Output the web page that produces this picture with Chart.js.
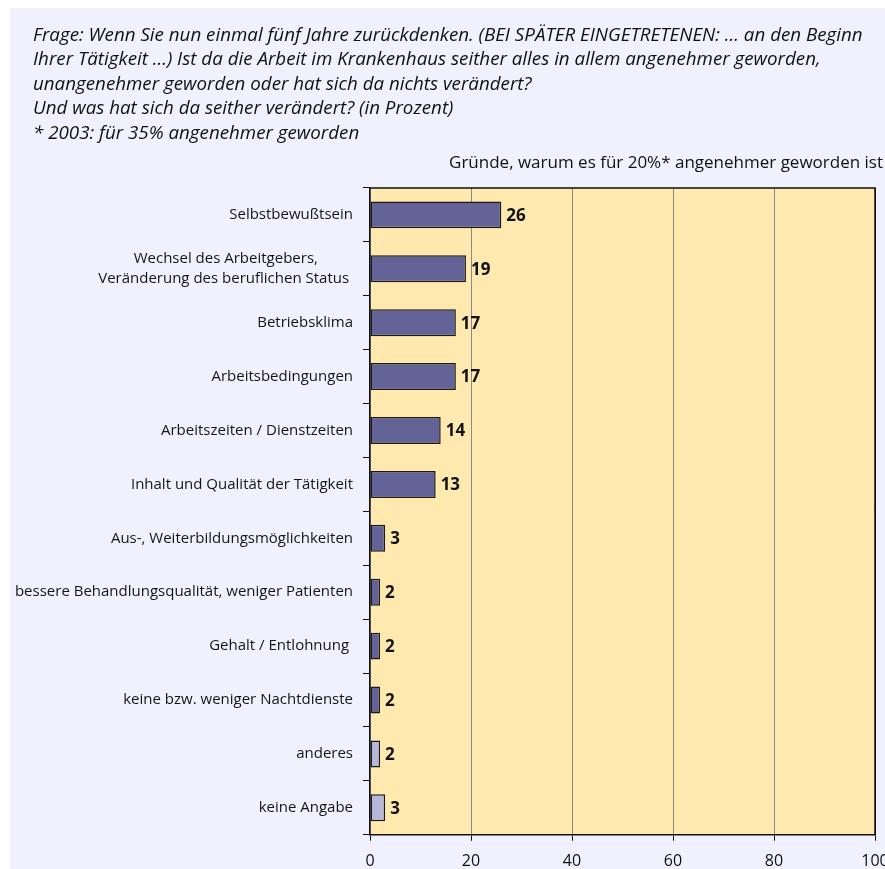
<!DOCTYPE html>
<html>
<head>
<meta charset="utf-8">
<script src="https://cdn.jsdelivr.net/npm/chart.js@4.4.0/dist/chart.umd.min.js"></script>
<style>
  html, body { margin: 0; padding: 0; background: #ffffff; overflow: hidden; width: 885px; height: 869px; }
  #wrap { position: absolute; left: 10px; top: 8px; width: 875px; height: 876px; background: #F0F0FE; }
  canvas { display: block; }
</style>
</head>
<body>
<div id="wrap"><canvas id="c" width="875" height="876"></canvas></div>
<script>
const categories = [
  "Selbstbewußtsein",
  ["Wechsel des Arbeitgebers,         ", "Veränderung des beruflichen Status "],
  "Betriebsklima",
  "Arbeitsbedingungen",
  "Arbeitszeiten / Dienstzeiten",
  "Inhalt und Qualität der Tätigkeit",
  "Aus-, Weiterbildungsmöglichkeiten",
  "bessere Behandlungsqualität, weniger Patienten",
  "Gehalt / Entlohnung ",
  "keine bzw. weniger Nachtdienste",
  "anderes",
  "keine Angabe"
];
const values = [26, 19, 17, 17, 14, 13, 3, 2, 2, 2, 2, 3];
const xTicks = [0, 20, 40, 60, 80, 100];
const titleLines = [
  "Frage: Wenn Sie nun einmal fünf Jahre zurückdenken. (BEI SPÄTER EINGETRETENEN: ... an den Beginn",
  "Ihrer Tätigkeit ...) Ist da die Arbeit im Krankenhaus seither alles in allem angenehmer geworden,",
  "unangenehmer geworden oder hat sich da nichts verändert?",
  "Und was hat sich da seither verändert? (in Prozent)",
  "* 2003: für 35% angenehmer geworden"
];
const subtitleText = "Gründe, warum es für 20%* angenehmer geworden ist";

const FONT = "'Open Sans', 'DejaVu Sans', sans-serif";
const DARK = "#636398";
const LIGHT = "#B7B7D9";

const bgPlugin = {
  id: 'plotBg',
  afterLayout(chart) {
    // let long category labels extend left of the axis box without being clipped
    chart.scales.y.left = 0;
  },
  beforeDraw(chart) {
    const a = chart.chartArea, ctx = chart.ctx;
    ctx.save();
    ctx.fillStyle = '#FFE9AE';
    ctx.fillRect(a.left, a.top, a.right - a.left, a.bottom - a.top);
    ctx.restore();
  },
  afterDatasetsDraw(chart) {
    const a = chart.chartArea, ctx = chart.ctx;
    ctx.save();
    ctx.strokeStyle = '#111';
    ctx.lineWidth = 1.5;
    ctx.beginPath();
    ctx.moveTo(a.left, a.top); ctx.lineTo(a.right, a.top); ctx.lineTo(a.right, a.bottom);
    ctx.stroke();
    const meta = chart.getDatasetMeta(0);
    ctx.fillStyle = '#111';
    ctx.font = "bold 17px " + FONT;
    ctx.textBaseline = 'middle';
    ctx.textAlign = 'left';
    meta.data.forEach((el, i) => {
      ctx.fillText(String(values[i]), el.x + 5, el.y + 1);
    });
    ctx.restore();
  }
};

new Chart(document.getElementById('c'), {
  type: 'bar',
  data: {
    labels: categories,
    datasets: [{
      data: values,
      backgroundColor: (c) => c.dataIndex >= 10 ? LIGHT : DARK,
      borderColor: '#1a1a1a',
      borderWidth: 1.5,
      borderSkipped: false,
      barPercentage: 0.5,
      categoryPercentage: 1.0
    }]
  },
  plugins: [bgPlugin],
  options: {
    indexAxis: 'y',
    responsive: false,
    animation: false,
    events: [],
    layout: { padding: { left: 23, right: 2, top: 0, bottom: 2 } },
    plugins: {
      legend: { display: false },
      tooltip: { enabled: false },
      title: {
        display: true,
        text: titleLines,
        align: 'start',
        color: '#111',
        font: { family: FONT, size: 18.75, style: 'italic', weight: 'normal', lineHeight: 1.307 },
        padding: { top: 15, bottom: 8 }
      },
      subtitle: {
        display: true,
        text: subtitleText,
        align: 'end',
        color: '#111',
        font: { family: FONT, size: 17, weight: 'normal', lineHeight: 1.2 },
        padding: { top: -1, bottom: 15 }
      }
    },
    scales: {
      x: {
        min: 0, max: 100,
        afterBuildTicks: (s) => { s.ticks = xTicks.map(v => ({ value: v })); },
        afterFit: (s) => { s.paddingRight = 10; },
        ticks: { color: '#111', font: { family: FONT, size: 16 }, padding: 11 },
        grid: {
          color: (c) => (c.tick && c.tick.value === 100) ? '#111' : '#8a8a8a',
          lineWidth: 1,
          tickColor: '#111',
          tickLength: 6,
          drawTicks: true
        },
        border: { color: '#111', width: 1.5 }
      },
      y: {
        afterFit: (s) => { s.width = 337; s.paddingTop = 0; s.paddingBottom = 0; },
        ticks: { color: '#151515', font: { family: FONT, size: 15, lineHeight: 1.38 }, padding: 10 },
        grid: {
          drawOnChartArea: false,
          drawTicks: true,
          tickLength: 7,
          tickColor: '#111',
          offset: true
        },
        border: { color: '#111', width: 1.5 }
      }
    }
  }
});
</script>
</body>
</html>
